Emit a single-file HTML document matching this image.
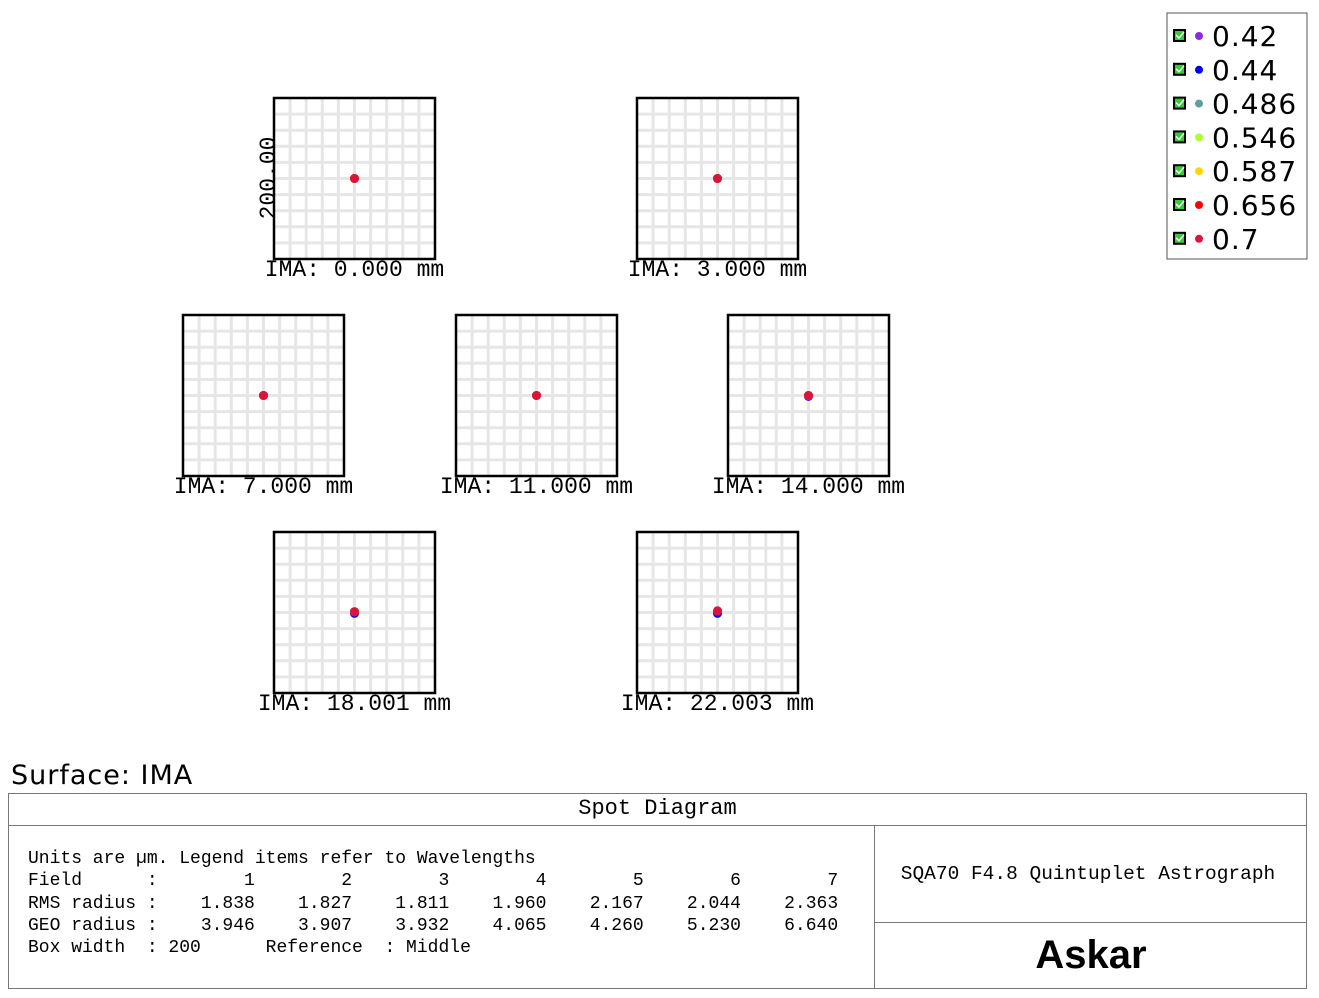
<!DOCTYPE html>
<html><head><meta charset="utf-8"><style>
body{margin:0;background:#fff;width:1319px;height:998px;overflow:hidden;font-family:"Liberation Mono",monospace;}
svg{position:absolute;left:0;top:0}
</style></head><body>
<svg width="1319" height="998" id="chart">
</svg>
<script>
const fieldLabels=["IMA: 0.000 mm","IMA: 3.000 mm","IMA: 7.000 mm","IMA: 11.000 mm","IMA: 14.000 mm","IMA: 18.001 mm","IMA: 22.003 mm"];
const wavelengths=["0.42","0.44","0.486","0.546","0.587","0.656","0.7"];
const wlColors=["#8a2be2","#0000ff","#5f9ea0","#adff2f","#ffd700","#ff0000","#dc143c"];
// spot centroid offsets (µm) per field
const spotDx=[0,0,0,0,0,0,0];
const spotDy=[0,0,0,0,0,1,2];
const spotDyBlue=[0,0,0,0,-1,-1,-1];
const rmsRadius=["1.838","1.827","1.811","1.960","2.167","2.044","2.363"];
const geoRadius=["3.946","3.907","3.932","4.065","4.260","5.230","6.640"];
const boxWidth=200;
const boxes=[[274,98],[637,98],[183,315],[456,315],[728,315],[274,532],[637,532]];
const S=161;
const svg=document.getElementById('chart');
const NS="http://www.w3.org/2000/svg";
function mk(t,a,p){const e=document.createElementNS(NS,t);for(const k in a)e.setAttribute(k,a[k]);(p||svg).appendChild(e);return e;}
function sx(v){return v*S/boxWidth;}
boxes.forEach((b,i)=>{
  const g=mk('g',{});
  
  
  mk('rect',{x:b[0],y:b[1],width:S,height:S,fill:'#fff'},g);
  for(let k=1;k<10;k++){
    const p=k*S/10;
    mk('line',{x1:b[0]+p,y1:b[1],x2:b[0]+p,y2:b[1]+S,stroke:'#e6e6e6','stroke-width':3},g);
    mk('line',{x1:b[0],y1:b[1]+p,x2:b[0]+S,y2:b[1]+p,stroke:'#e6e6e6','stroke-width':3},g);
  }
  mk('rect',{x:b[0],y:b[1],width:S,height:S,fill:'none',stroke:'#000','stroke-width':2.5},g);
  const cx=b[0]+S/2,cy=b[1]+S/2;
  for(let w=0;w<7;w++){
    const off = w<2 ? spotDyBlue[i] : spotDy[i];
    const c=mk('circle',{cx:cx+sx(spotDx[i]),cy:cy-sx(off),r:4.5,fill:wlColors[w]},g);
    
    
  }
  const t=mk('text',{x:cx,y:b[1]+S+17,'text-anchor':'middle','font-size':23,'font-family':'Liberation Mono, monospace',fill:'#000'},g);
  t.textContent=fieldLabels[i];
  
  
});
const yl=mk('text',{x:0,y:0,transform:'translate(275,178) rotate(-90)','text-anchor':'middle','font-size':23,'font-family':'Liberation Mono, monospace'});
yl.textContent="200.00";


const lg=mk('g',{});


mk('rect',{x:1167,y:13,width:140,height:246,fill:'#fff',stroke:'#555','stroke-width':1},lg);
wavelengths.forEach((w,i)=>{
  const y=36+i*33.8;
  const e=mk('g',{},lg);
  
  
  mk('rect',{x:1174,y:y-6,width:11,height:11,fill:'#3c3',stroke:'#000','stroke-width':2},e);
  mk('path',{d:`M${1176} ${y-1} l3 3 l5 -6`,stroke:'#fff','stroke-width':1.5,fill:'none'},e);
  mk('circle',{cx:1199,cy:y,r:4,fill:wlColors[i]},e);
  const t=mk('text',{x:1212,y:y+10,'font-size':28,'font-family':'DejaVu Sans, sans-serif','letter-spacing':1},e);
  t.textContent=w;
});
</script>
<div style="position:absolute;left:11px;top:760px;font-size:27px;font-family:'DejaVu Sans',sans-serif;letter-spacing:1px">Surface: IMA</div>
<div style="position:absolute;left:8px;top:793px;width:1297px;height:194px;border:1.5px solid #777;">
  <div style="height:31px;border-bottom:1.5px solid #777;text-align:center;font-size:22px;line-height:29px">Spot Diagram</div>
  <pre style="position:absolute;left:19px;top:54px;margin:0;font-size:18px;line-height:22.3px;font-family:'Liberation Mono',monospace">Units are µm. Legend items refer to Wavelengths
Field      :        1        2        3        4        5        6        7
RMS radius :    1.838    1.827    1.811    1.960    2.167    2.044    2.363
GEO radius :    3.946    3.907    3.932    4.065    4.260    5.230    6.640
Box width  : 200      Reference  : Middle</pre>
  <div style="position:absolute;left:865px;top:32px;width:432px;height:162px;border-left:1.5px solid #777">
    <div style="height:96px;border-bottom:1.5px solid #777;text-align:center;line-height:96px;font-size:19.5px;padding-right:6px">SQA70 F4.8 Quintuplet Astrograph</div>
    <div style="text-align:center;font-family:'Liberation Sans',sans-serif;font-weight:bold;font-size:40px;line-height:64px;letter-spacing:0px">Askar</div>
  </div>
</div>
</body></html>
